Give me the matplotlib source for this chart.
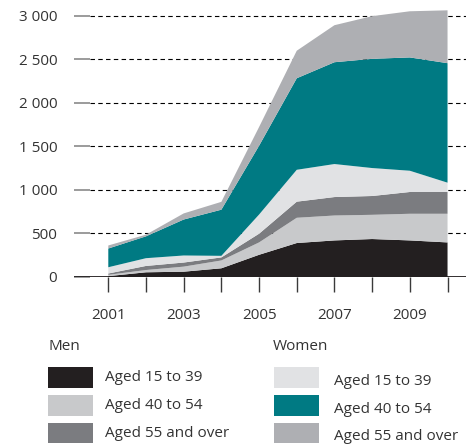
import matplotlib
matplotlib.use("Agg")
import matplotlib.pyplot as plt
from matplotlib.patches import Rectangle
from matplotlib.ticker import FuncFormatter

# data
years = [2001, 2002, 2003, 2004, 2005, 2006, 2007, 2008, 2009, 2010]
men_15_39 = [10, 54, 61, 100, 255, 390, 420, 436, 420, 397]
men_40_54 = [15, 26, 58, 90, 142, 290, 286, 278, 306, 329]
men_55_over = [15, 47, 47, 35, 100, 185, 212, 216, 250, 250]
women_15_39 = [72, 89, 81, 18, 220, 366, 379, 321, 244, 107]
women_40_54 = [215, 251, 413, 530, 790, 1051, 1169, 1254, 1301, 1372]
women_55_over = [35, 19, 70, 90, 215, 316, 425, 490, 530, 607]

series = [men_15_39, men_40_54, men_55_over, women_15_39, women_40_54, women_55_over]
labels = ["Aged 15 to 39", "Aged 40 to 54", "Aged 55 and over"]
colors = ["#231f20", "#c8c9cb", "#7b7c80", "#e1e2e4", "#007a83", "#aeafb3"]
yticks = [0, 500, 1000, 1500, 2000, 2500, 3000]

W, H = 467, 448
txt = "#333333"
plt.rcParams["font.family"] = ["Open Sans", "DejaVu Sans"]

fig = plt.figure(figsize=(W / 100, H / 100), dpi=100)
ax = fig.add_axes([74 / W, 1 - 277 / H, 392 / W, (277 - 7) / H])

ax.stackplot(years, *series, colors=colors, linewidth=0, zorder=2)

# dashed grid behind the areas
for v in yticks[1:]:
    ax.axhline(v, xmin=16 / 392, xmax=1, color="black", lw=0.8,
               ls=(0, (4, 3)), zorder=1)
ax.axhline(0, color="#231f20", lw=1.3, zorder=3)

ax.set_xlim(2000.09, 2010.49)
ax.set_ylim(0, 3100)
ax.set_yticks(yticks)
ax.yaxis.set_major_formatter(FuncFormatter(lambda v, p: f"{int(v):,}".replace(",", " ")))
ax.tick_params(axis="y", direction="in", length=11.5, width=1.2, color="#8a8a8a",
               pad=12, labelsize=11, labelcolor=txt)
ax.set_xticks(years)
ax.set_xticklabels([str(y) if y % 2 == 1 else "" for y in years])
ax.tick_params(axis="x", direction="out", length=11, width=1, color="#3a3a3a",
               pad=11, labelsize=11, labelcolor=txt)
for s in ax.spines.values():
    s.set_visible(False)

# legend, drawn by hand
def box(x0, x1, y0, y1, c):
    fig.add_artist(Rectangle((x0 / W, 1 - y1 / H), (x1 - x0) / W, (y1 - y0) / H,
                             transform=fig.transFigure, color=c, lw=0))

fig.text(48 / W, 1 - 346.7 / H, "Men", fontsize=11, color=txt, va="center")
fig.text(273 / W, 1 - 346.7 / H, "Women", fontsize=11, color=txt, va="center")
rows = [(367.3, 387.7), (395.3, 415.7), (423.3, 443.3)]
for i, (y0, y1) in enumerate(rows):
    box(48.3, 92.7, y0, y1, colors[i])
    fig.text(105 / W, 1 - (y0 + y1) / 2 / H, labels[i], fontsize=11, color=txt, va="center")
    box(274, 319, y0, y1, colors[i + 3])
    fig.text(334.3 / W, 1 - ((y0 + y1) / 2 + 3.5) / H, labels[i], fontsize=11, color=txt, va="center")

fig.savefig("out.png", dpi=100)
